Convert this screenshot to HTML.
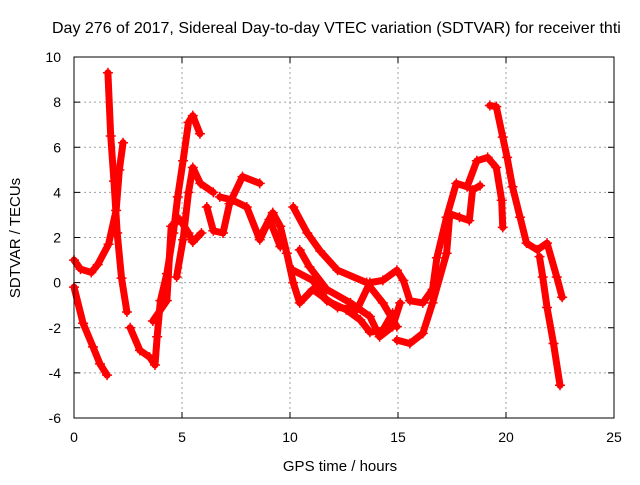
<!DOCTYPE html>
<html><head><meta charset="utf-8"><style>
body{margin:0;background:#fff;width:640px;height:480px;overflow:hidden}
svg{font-family:"Liberation Sans",sans-serif}
</style></head><body>
<svg id="chart" width="640" height="480" xmlns="http://www.w3.org/2000/svg">
<text x="52" y="33" font-size="16" fill="#000">Day 276 of 2017, Sidereal Day-to-day VTEC variation (SDTVAR) for receiver thti</text>
<text transform="translate(20,238) rotate(-90)" text-anchor="middle" font-size="15">SDTVAR / TECUs</text>
<text x="340" y="471" text-anchor="middle" font-size="15">GPS time / hours</text>
<g id="grid"></g>
<g id="marks"></g>
<rect x="74" y="57" width="540" height="361" fill="none" stroke="#000" stroke-width="1"/>
</svg>
<script>
const xTicks=[0,5,10,15,20,25];
const yTicks=[-6,-4,-2,0,2,4,6,8,10];
const trackA=[[0,1.0],[0.3,0.6],[0.8,0.45],[1.1,0.8],[1.6,1.7],[1.95,3.2],[2.1,5.0],[2.27,6.2]];
const trackB=[[0,-0.2],[0.42,-1.8],[0.88,-2.85],[1.2,-3.6],[1.53,-4.1]];
const trackC=[[1.57,9.3],[1.7,6.5],[1.85,4.5],[2.0,2.2],[2.2,0.2],[2.45,-1.3]];
const trackD=[[2.6,-2.0],[3.05,-3.0],[3.5,-3.3],[3.75,-3.65],[3.85,-2.4],[4.0,-0.8],[4.3,0.4],[4.6,2.2],[4.8,3.8],[5.05,5.4],[5.3,7.1],[5.5,7.4],[5.83,6.6]];
const trackE=[[3.65,-1.7],[4.3,-0.8],[4.5,2.5],[4.9,2.8],[5.3,2.2],[5.5,1.8],[5.9,2.2]];
const trackF=[[4.75,0.25],[5.05,1.9],[5.3,4.0],[5.5,5.1],[5.85,4.4],[6.45,4.0]];
const trackG=[[6.15,3.35],[6.45,2.3],[6.9,2.2],[7.2,3.5],[7.8,4.7],[8.6,4.4]];
const trackH=[[6.75,3.8],[7.35,3.65],[8.0,3.35],[8.6,1.9],[9.05,2.8],[9.55,1.6]];
const trackM1=[[8.6,2.0],[9.2,3.1],[9.55,2.5],[9.85,1.3],[10.15,0],[10.45,-0.9],[11.05,-0.3],[12.2,-1.1],[13.1,-1.2],[13.7,0],[14.3,0.1],[14.95,0.55],[15.25,0.1],[15.55,-0.8],[16.15,-0.9],[16.6,-0.3],[16.8,1.1],[17.25,2.9],[17.7,4.4],[18.2,4.25],[18.65,5.4],[19.15,5.55],[19.55,5.1],[19.8,3.65],[19.85,2.45]];
const trackM2=[[10.15,3.35],[10.8,2.2],[11.4,1.4],[12.2,0.55],[13.55,0],[14.3,-0.9],[14.95,-1.95]];
const trackM3=[[10.45,1.45],[10.9,0.7],[11.7,-0.3],[12.8,-0.9],[13.7,-1.5],[14.15,-2.4],[14.75,-1.95],[15.1,-0.9]];
const trackM4=[[10.15,0.55],[11.05,0.1],[11.7,-0.8],[12.6,-1.2],[13.25,-1.65],[13.7,-2.2],[14.3,-2.1],[14.75,-1.35]];
const trackM5=[[14.95,-2.55],[15.55,-2.7],[16.15,-2.25],[16.6,-0.9],[17.25,1.3],[17.4,3.05],[17.85,2.9],[18.3,2.75],[18.45,4.1],[18.8,4.3]];
const trackR3=[[19.25,7.85],[19.55,7.8],[19.85,6.45],[20.05,5.55],[20.3,4.25],[20.65,2.9],[20.95,1.75],[21.45,1.45],[21.9,1.75],[22.35,0.25],[22.6,-0.65]];
const trackR4=[[21.55,1.15],[21.7,0.25],[21.9,-1.1],[22.2,-2.7],[22.5,-4.55]];
const tracks=[trackA,trackB,trackC,trackD,trackE,trackF,trackG,trackH,trackM1,trackM2,trackM3,trackM4,trackM5,trackR3,trackR4];

const X0=74,X1=614,Y0=418,Y1=57;
const sx=t=>X0+(t-0)/(25-0)*(X1-X0);
const sy=v=>Y0-(v+6)/(16)*(Y0-Y1);
const NS="http://www.w3.org/2000/svg";
const grid=document.getElementById('grid');
function mk(tag,attrs,parent){const e=document.createElementNS(NS,tag);for(const k in attrs)e.setAttribute(k,attrs[k]);parent.appendChild(e);return e;}
xTicks.forEach(t=>{
  const x=sx(t);
  if(t>0&&t<25){const l=mk('line',{x1:x,x2:x,y1:Y1,y2:Y0,stroke:'#a0a0a0','stroke-dasharray':'2,3'},grid);
  
  }
  mk('line',{x1:x,x2:x,y1:Y0,y2:Y0-6,stroke:'#000'},grid);
  mk('line',{x1:x,x2:x,y1:Y1,y2:Y1+6,stroke:'#000'},grid);
  const tx=mk('text',{x:x,y:Y0+24,'text-anchor':'middle','font-size':14},grid);
  tx.textContent=t;
  
  
});
yTicks.forEach(v=>{
  const y=sy(v);
  if(v>-6&&v<10){const l=mk('line',{x1:X0,x2:X1,y1:y,y2:y,stroke:'#a0a0a0','stroke-dasharray':'2,3'},grid);
  
  }
  mk('line',{x1:X0,x2:X0+6,y1:y,y2:y,stroke:'#000'},grid);
  mk('line',{x1:X1,x2:X1-6,y1:y,y2:y,stroke:'#000'},grid);
  const tx=mk('text',{x:X0-13,y:y+5,'text-anchor':'end','font-size':14},grid);
  tx.textContent=v;
  
  
});
const marks=document.getElementById('marks');
tracks.forEach((tr,i)=>{
  const p=mk('polyline',{points:tr.map(d=>sx(d[0])+','+sy(d[1])).join(' '),fill:'none',stroke:'#ff0000','stroke-width':7,'stroke-linejoin':'round','stroke-linecap':'round'},marks);
  
  
  tr.forEach(d=>{
    const x=sx(d[0]),y=sy(d[1]);
    const m=mk('path',{d:`M${x-5},${y}H${x+5}M${x},${y-5}V${y+5}`,stroke:'#ff0000','stroke-width':1.5},marks);
    
    
  });
});
</script>
</body></html>
